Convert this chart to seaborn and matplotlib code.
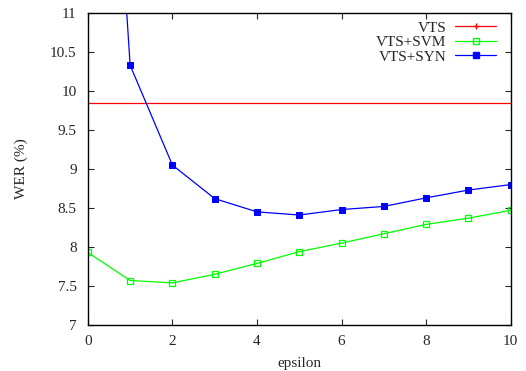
import matplotlib
matplotlib.use("Agg")
import matplotlib.pyplot as plt
import seaborn as sns
import pandas as pd
import numpy as np

epsilon = [0, 1, 2, 3, 4, 5, 6, 7, 8, 9, 10]
vts = [9.84] * 11
vts_svm = [7.93, 7.57, 7.54, 7.65, 7.79, 7.94, 8.05, 8.17, 8.29, 8.37, 8.47]
vts_syn = [18.7, 10.33, 9.05, 8.62, 8.45, 8.41, 8.48, 8.52, 8.63, 8.73, 8.80]
series_names = ["VTS", "VTS+SVM", "VTS+SYN"]
x_ticks = [0, 2, 4, 6, 8, 10]
y_ticks = [7, 7.5, 8, 8.5, 9, 9.5, 10, 10.5, 11]

sns.set_theme(style="ticks")
plt.rcParams['font.family'] = ['Liberation Serif', 'DejaVu Serif']

df = pd.DataFrame({
    "epsilon": epsilon * 3,
    "WER": vts + vts_svm + vts_syn,
    "series": sum([[n] * len(epsilon) for n in series_names], []),
})

fig = plt.figure(figsize=(5.26, 3.71), dpi=100)
ax = fig.add_axes([0.167, 0.124, 0.804, 0.841])

colors = {"VTS": "#ff0000", "VTS+SVM": "#00ff00", "VTS+SYN": "#0000ff"}
sub = df[df.series == "VTS"]
sns.lineplot(data=sub, x="epsilon", y="WER", ax=ax, color=colors["VTS"], lw=0.9,
             label="VTS", legend=False)
sub = df[df.series == "VTS+SVM"]
sns.lineplot(data=sub, x="epsilon", y="WER", ax=ax, color=colors["VTS+SVM"], lw=0.9,
             marker="s", markersize=5, markerfacecolor="none", markeredgecolor=colors["VTS+SVM"],
             markeredgewidth=0.9, label="VTS+SVM", legend=False)
sub = df[df.series == "VTS+SYN"]
sns.lineplot(data=sub, x="epsilon", y="WER", ax=ax, color=colors["VTS+SYN"], lw=0.9,
             marker="s", markersize=5, markerfacecolor=colors["VTS+SYN"], markeredgecolor=colors["VTS+SYN"],
             label="VTS+SYN", legend=False)

from matplotlib.lines import Line2D
handles = [
    Line2D([], [], color=colors["VTS"], lw=0.9, marker="+", markersize=5),
    Line2D([], [], color=colors["VTS+SVM"], lw=0.9, marker="s", markersize=5, markerfacecolor="none"),
    Line2D([], [], color=colors["VTS+SYN"], lw=0.9, marker="s", markersize=5),
]
ax.legend(handles, series_names, loc="upper right", frameon=False, markerfirst=False,
          fontsize=11, handlelength=2.65, labelspacing=0.05, borderaxespad=0.0,
          handletextpad=0.6, bbox_to_anchor=(0.979, 0.994))

ax.set_xlim(0, 10)
ax.set_ylim(7, 11)
ax.set_xticks(x_ticks)
ax.set_yticks(y_ticks)
ax.set_yticklabels([f"{v:g}" for v in y_ticks])
ax.set_xlabel("epsilon", fontsize=11, labelpad=7)
ax.set_ylabel("WER (%)", fontsize=11, labelpad=16)
ax.tick_params(direction="in", top=True, right=True, labelsize=11, length=4, width=0.8)
ax.tick_params(axis="x", pad=7)
ax.tick_params(axis="y", pad=8)
for s in ax.spines.values():
    s.set_linewidth(1.0)
    s.set_color("black")
    s.set_visible(True)
ax.grid(False)

fig.savefig("out.png", dpi=100)
